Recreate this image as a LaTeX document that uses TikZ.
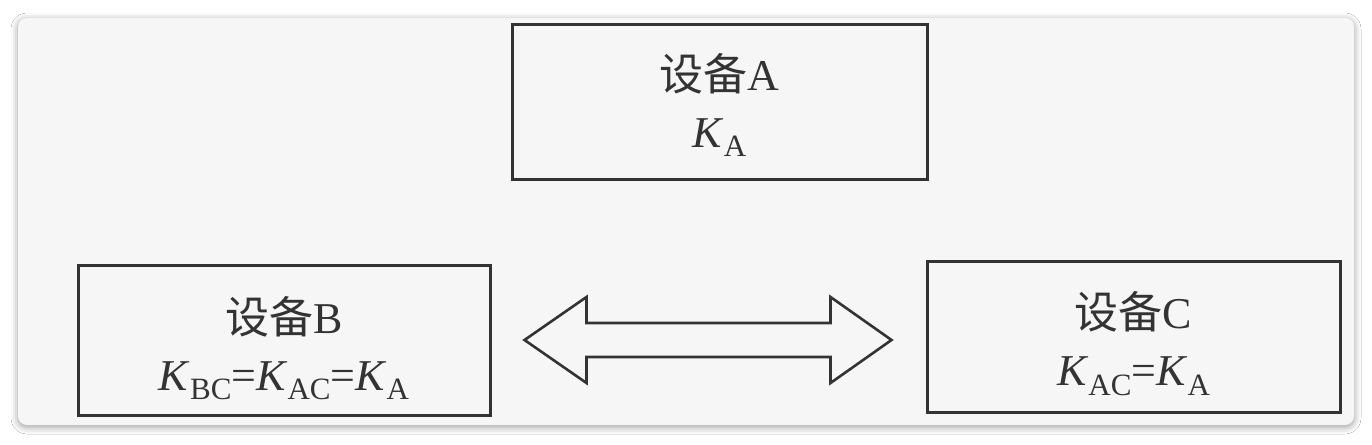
\documentclass[tikz,border=0pt]{standalone}
\usepackage{fontspec}
\setmainfont{Liberation Serif}
\newfontfamily\cjk{Noto Sans CJK SC}
\usetikzlibrary{shadows.blur,calc}
\definecolor{ink}{HTML}{333333}
\definecolor{card}{HTML}{F6F6F6}
\newcommand\Ksub[2]{\textit{#1}\raisebox{-0.22em}{\fontsize{31}{31}\selectfont #2}}
\tikzset{
  devbox/.style={draw=ink, line width=3pt, fill=card, minimum width=#1, minimum height=152pt, inner sep=0pt},
  devbox/.default=413pt,
  devtext/.style={align=center, text=ink, font=\fontsize{44}{57}\selectfont, inner sep=0pt},
  dblarrow/.style={draw=ink, line width=2.6pt, fill=card, line join=miter},
}
\begin{document}
\begin{tikzpicture}[x=1pt,y=-1pt]
\useasboundingbox (0,0) rectangle (1372,444);
\fill[white] (0,0) rectangle (1372,444);
\path[fill=card, rounded corners=9pt, blur shadow={shadow xshift=0pt, shadow yshift=-2pt, shadow blur radius=7pt, shadow opacity=40}]
  (18,18) rectangle (1354,425);
\node[devbox=415pt, minimum height=155pt] (A) at (719.5,102) {};
\node[devtext] (At) at ($(A.center)+(0,3)$) {{\cjk 设备}A\\\Ksub{K}{A}};
\node[devbox=412pt, minimum height=150pt] (B) at (284,340) {};
\node[devtext] (Bt) at ($(B.center)+(0,8)$) {{\cjk 设备}B\\\Ksub{K}{BC}=\Ksub{K}{AC}=\Ksub{K}{A}};
\node[devbox=413pt, minimum height=151pt] (C) at (1133.5,336.5) {};
\node[devtext] (Ct) at ($(C.center)+(0,7)$) {{\cjk 设备}C\\\Ksub{K}{AC}=\Ksub{K}{A}};
\coordinate (L) at ($(B.east)+(33,0)$);
\coordinate (R) at ($(C.west)+(-34,3.5)$);
\draw[dblarrow] (L) -- ($(L)+(62,-43)$) -- ($(L)+(62,-17)$) -- ($(R)+(-61,-17)$) -- ($(R)+(-61,-43)$)
  -- (R) -- ($(R)+(-61,43)$) -- ($(R)+(-61,17)$) -- ($(L)+(62,17)$) -- ($(L)+(62,43)$) -- cycle;
\end{tikzpicture}
\end{document}
